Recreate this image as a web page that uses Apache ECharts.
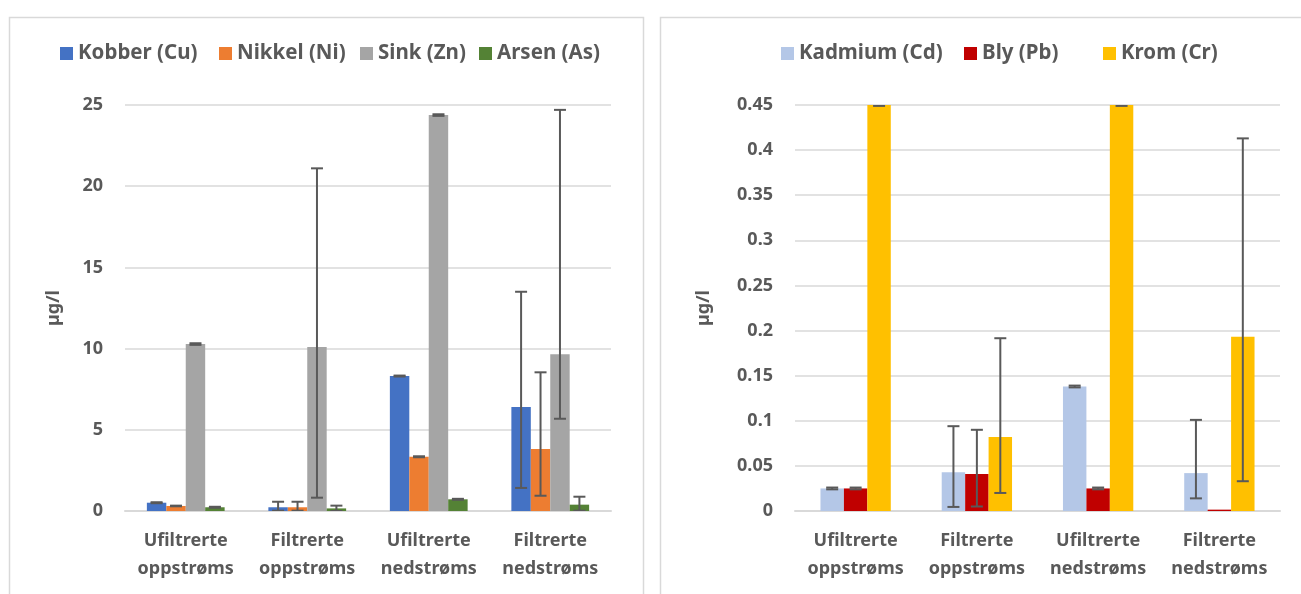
<!DOCTYPE html>
<html>
<head>
<meta charset="utf-8">
<script src="https://cdn.jsdelivr.net/npm/echarts@6/dist/echarts.min.js"></script>
<style>
  html, body { margin: 0; padding: 0; background: #fff; }
  #chart { width: 1301px; height: 594px; }
</style>
</head>
<body>
<div id="chart"></div>
<script>
// Sampling stations
const categories = ['Ufiltrerte\noppstrøms', 'Filtrerte\noppstrøms', 'Ufiltrerte\nnedstrøms', 'Filtrerte\nnedstrøms'];

// Left panel: main metals (µg/l)
const leftNames = ['Kobber (Cu)', 'Nikkel (Ni)', 'Sink (Zn)', 'Arsen (As)'];
const kobber = [0.51, 0.23, 8.31, 6.4];
const nikkel = [0.31, 0.23, 3.34, 3.82];
const sink = [10.28, 10.1, 24.38, 9.65];
const arsen = [0.23, 0.16, 0.72, 0.39];
// error bar ranges [low, high] per station
const kobberErr = [[0.48, 0.54], [0.02, 0.57], [8.28, 8.34], [1.42, 13.5]];
const nikkelErr = [[0.29, 0.33], [0.02, 0.57], [3.31, 3.37], [0.94, 8.54]];
const sinkErr = [[10.23, 10.33], [0.82, 21.1], [24.33, 24.43], [5.68, 24.7]];
const arsenErr = [[0.2, 0.26], [0.0, 0.33], [0.69, 0.75], [0.02, 0.88]];
const leftTicks = { min: 0, max: 25, interval: 5 };

// Right panel: trace metals (µg/l)
const rightNames = ['Kadmium (Cd)', 'Bly (Pb)', 'Krom (Cr)'];
const kadmium = [0.025, 0.043, 0.138, 0.042];
const bly = [0.025, 0.041, 0.025, 0.0015];
const krom = [0.45, 0.082, 0.45, 0.193];
const kadmiumErr = [[0.024, 0.026], [0.0045, 0.094], [0.137, 0.139], [0.014, 0.101]];
const blyErr = [[0.024, 0.026], [0.005, 0.090], [0.024, 0.026], null];
const kromErr = [[0.449, 0.451], [0.020, 0.1915], [0.449, 0.451], [0.033, 0.413]];
const rightTicks = { min: 0, max: 0.45, interval: 0.05 };

const leftColors = ['#4472C4', '#ED7D31', '#A5A5A5', '#548235'];
const rightColors = ['#B4C7E7', '#C00000', '#FFC000'];

// legend entry positions (left edge of each swatch)
const leftLegendX = [60, 219, 360, 479];
const rightLegendX = [781, 964, 1103];

const FONT = '"Noto Sans", "Open Sans", sans-serif';
const TEXT = '#595959';
const GRID_LINE = '#d9d9d9';
const LEFT_GAP = 0.36;
const RIGHT_GAP = 0.42;

function errorSeries(errs, idx, count, gap, axisIdx) {
  const data = [];
  errs.forEach((e, i) => { if (e) data.push([i, e[0], e[1]]); });
  return {
    type: 'custom',
    xAxisIndex: axisIdx,
    yAxisIndex: axisIdx,
    clip: true,
    silent: true,
    z: 5,
    encode: { x: 0, y: [1, 2] },
    data: data,
    renderItem: function (params, api) {
      const band = api.size([1, 0])[0];
      const w = band * (1 - gap) / count;
      const c = api.coord([api.value(0), 0]);
      const x = c[0] + (idx - (count - 1) / 2) * w;
      const lo = api.coord([api.value(0), api.value(1)])[1];
      const hi = api.coord([api.value(0), api.value(2)])[1];
      const cap = 6;
      const style = { stroke: '#595959', lineWidth: 2 };
      return {
        type: 'group',
        children: [
          { type: 'line', shape: { x1: x, y1: lo, x2: x, y2: hi }, style: style },
          { type: 'line', shape: { x1: x - cap, y1: hi, x2: x + cap, y2: hi }, style: style },
          { type: 'line', shape: { x1: x - cap, y1: lo, x2: x + cap, y2: lo }, style: style }
        ]
      };
    }
  };
}

function barSeries(name, values, color, axisIdx, gap) {
  return {
    name: name,
    type: 'bar',
    xAxisIndex: axisIdx,
    yAxisIndex: axisIdx,
    data: values,
    barGap: '0%',
    barCategoryGap: (gap * 100) + '%',
    itemStyle: { color: color },
    emphasis: { disabled: true }
  };
}

const labelStyle = { color: TEXT, fontFamily: FONT, fontWeight: 'bold', fontSize: 18 };
const legendStyle = { color: TEXT, fontFamily: FONT, fontWeight: 'bold', fontSize: 20.5 };

function xAxisFor(gridIndex) {
  return {
    type: 'category',
    gridIndex: gridIndex,
    data: categories,
    axisLine: { lineStyle: { color: GRID_LINE, width: 2 } },
    axisTick: { show: false },
    axisLabel: Object.assign({ lineHeight: 28, margin: 16, interval: 0 }, labelStyle)
  };
}

function yAxisFor(gridIndex, ticks, gapName, fmt) {
  return {
    type: 'value',
    gridIndex: gridIndex,
    min: ticks.min,
    max: ticks.max,
    interval: ticks.interval,
    name: 'µg/l',
    nameLocation: 'middle',
    nameRotate: 90,
    nameGap: gapName,
    nameTextStyle: labelStyle,
    axisLine: { show: false },
    axisTick: { show: false },
    splitLine: { lineStyle: { color: GRID_LINE, width: 1.5 } },
    axisLabel: Object.assign({ margin: 22, formatter: fmt }, labelStyle)
  };
}

const series = [];
[kobber, nikkel, sink, arsen].forEach((v, i) => series.push(barSeries(leftNames[i], v, leftColors[i], 0, LEFT_GAP)));
[kadmium, bly, krom].forEach((v, i) => series.push(barSeries(rightNames[i], v, rightColors[i], 1, RIGHT_GAP)));
[kobberErr, nikkelErr, sinkErr, arsenErr].forEach((e, i) => series.push(errorSeries(e, i, 4, LEFT_GAP, 0)));
[kadmiumErr, blyErr, kromErr].forEach((e, i) => series.push(errorSeries(e, i, 3, RIGHT_GAP, 1)));

function legendItem(name, x) {
  return { data: [name], left: x, top: 43, padding: 0, itemWidth: 13, itemHeight: 13, icon: 'rect', textStyle: legendStyle, selectedMode: false };
}
const legends = [];
leftNames.forEach((n, i) => legends.push(legendItem(n, leftLegendX[i])));
rightNames.forEach((n, i) => legends.push(legendItem(n, rightLegendX[i])));

const chart = echarts.init(document.getElementById('chart'), null, { renderer: 'canvas' });
chart.setOption({
  animation: false,
  backgroundColor: '#ffffff',
  graphic: [
    { type: 'rect', left: 7, top: 15, shape: { width: 634, height: 600 }, style: { fill: 'none', stroke: GRID_LINE, lineWidth: 1.5 }, silent: true },
    { type: 'rect', left: 658, top: 15, shape: { width: 660, height: 600 }, style: { fill: 'none', stroke: GRID_LINE, lineWidth: 1.5 }, silent: true }
  ],
  legend: legends,
  grid: [
    { left: 125, right: 690, top: 105, bottom: 83 },
    { left: 795, right: 21, top: 105, bottom: 83 }
  ],
  xAxis: [xAxisFor(0), xAxisFor(1)],
  yAxis: [
    yAxisFor(0, leftTicks, 62, v => String(v)),
    yAxisFor(1, rightTicks, 82, v => String(Math.round(v * 100) / 100))
  ],
  series: series
});
</script>
</body>
</html>
